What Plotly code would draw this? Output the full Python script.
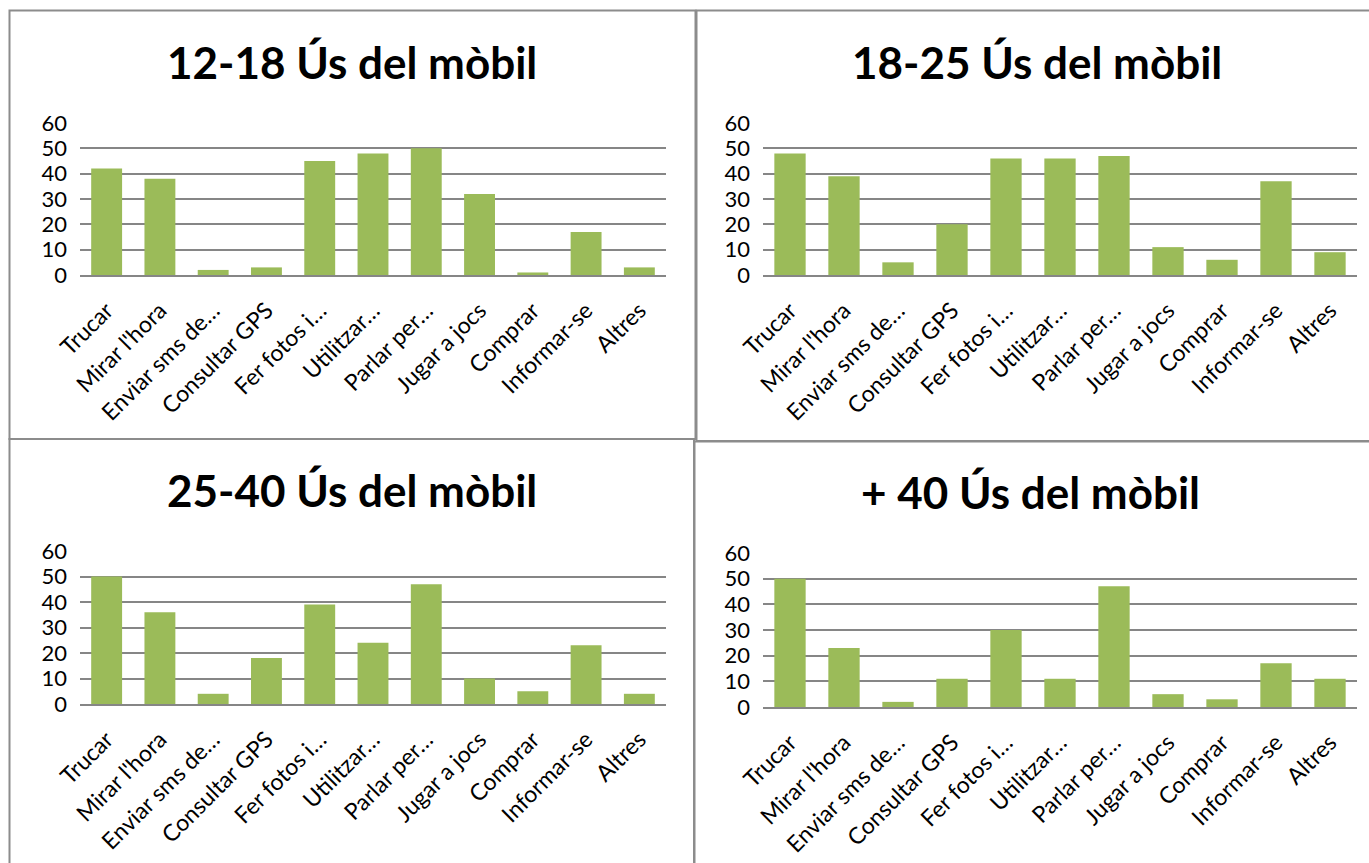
import plotly.graph_objects as go

# Survey: what people use their mobile phone for, by age group
categories = ["Trucar", "Mirar l'hora", "Enviar sms de…", "Consultar GPS", "Fer fotos i…",
              "Utilitzar…", "Parlar per…", "Jugar a jocs", "Comprar", "Informar-se", "Altres"]

titles = ["12-18 Ús del mòbil", "18-25 Ús del mòbil", "25-40 Ús del mòbil", "+ 40 Ús del mòbil"]

vals_12_18 = [42, 38, 2, 3, 45, 48, 50, 32, 1, 17, 3]
vals_18_25 = [48, 39, 5, 20, 46, 46, 47, 11, 6, 37, 9]
vals_25_40 = [50, 36, 4, 18, 39, 24, 47, 10, 5, 23, 4]
vals_40_plus = [50, 23, 2, 11, 30, 11, 47, 5, 3, 17, 11]

y_ticks = [0, 10, 20, 30, 40, 50, 60]

W, H = 1369, 863
BAR = "#9BBB59"
GRID = "#868686"
BORDER = "#8c8c8c"
FONT = "Lato"

series = [vals_12_18, vals_18_25, vals_25_40, vals_40_plus]

# plot areas in pixels: (left, right, top, bottom)
areas = [(80, 666, 123, 275), (763, 1357, 123, 275),
         (80, 666, 551, 704), (763, 1357, 553, 707)]
# panel frames in pixels: (left, right, top, bottom)
frames = [(9.5, 695.5, 10.5, 439), (696.5, 1372, 10.5, 441),
          (9.5, 694, 439, 870), (694.5, 1372, 441.5, 870)]
title_pos = [(352, 62), (1037, 62), (352, 490), (1030, 492)]

fig = go.Figure()
layout = dict(template="none", width=W, height=H, autosize=False,
              margin=dict(l=0, r=0, t=0, b=0, pad=0),
              paper_bgcolor="white", plot_bgcolor="white", showlegend=False,
              bargap=0.42, font=dict(family=FONT, color="black"))

shapes = []
annotations = []
for i, (vals, (l, r, t, b)) in enumerate(zip(series, areas)):
    n = "" if i == 0 else str(i + 1)
    fig.add_trace(go.Bar(x=categories, y=vals, marker=dict(color=BAR, line=dict(width=0)),
                         xaxis="x" + n, yaxis="y" + n, hoverinfo="x+y"))
    layout["xaxis" + n] = dict(domain=[l / W, r / W], anchor="y" + n, automargin=False,
                               type="category", range=[-0.5, len(categories) - 0.5],
                               tickangle=-45, tickfont=dict(size=23, family=FONT),
                               showgrid=False, showline=True, linecolor=GRID, linewidth=2,
                               ticks="", ticklabelstandoff=11, ticklabelshift=0,
                               fixedrange=True)
    layout["yaxis" + n] = dict(domain=[1 - b / H, 1 - t / H], anchor="x" + n, automargin=False,
                               range=[0, 60], tickvals=y_ticks, ticktext=[str(v) for v in y_ticks],
                               tickfont=dict(size=22, family=FONT),
                               showgrid=True, gridcolor=GRID, gridwidth=2,
                               zeroline=False, showline=False, ticks="",
                               ticklabelstandoff=12, fixedrange=True)
    fl, fr, ft, fb = frames[i]
    shapes.append(dict(type="rect", xref="paper", yref="paper",
                       x0=fl / W, x1=fr / W, y0=1 - fb / H, y1=1 - ft / H,
                       line=dict(color=BORDER, width=2), fillcolor="rgba(0,0,0,0)", layer="above"))
    tx, ty = title_pos[i]
    annotations.append(dict(text="<b>" + titles[i] + "</b>", xref="paper", yref="paper",
                            x=tx / W, y=1 - ty / H, xanchor="center", yanchor="middle",
                            showarrow=False, font=dict(size=44, family=FONT, color="black")))

layout["shapes"] = shapes
layout["annotations"] = annotations
fig.update_layout(**layout)
fig.write_html("out.html")
